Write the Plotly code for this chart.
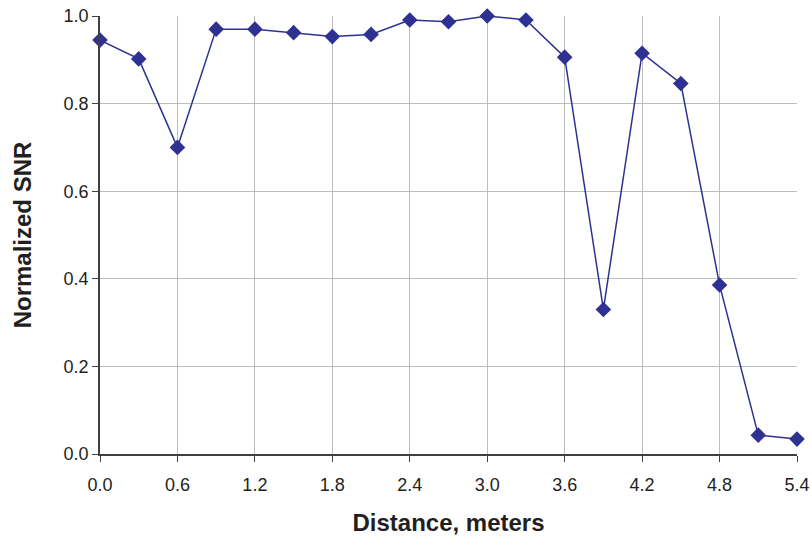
import plotly.graph_objects as go

distance = [0.0, 0.3, 0.6, 0.9, 1.2, 1.5, 1.8, 2.1, 2.4, 2.7, 3.0, 3.3, 3.6, 3.9, 4.2, 4.5, 4.8, 5.1, 5.4]
snr = [0.945, 0.902, 0.700, 0.970, 0.970, 0.962, 0.953, 0.958, 0.991, 0.987, 1.000, 0.991, 0.906, 0.330, 0.915, 0.846, 0.386, 0.043, 0.034]
xticks = [0.0, 0.6, 1.2, 1.8, 2.4, 3.0, 3.6, 4.2, 4.8, 5.4]
yticks = [0.0, 0.2, 0.4, 0.6, 0.8, 1.0]

color = "#2E3192"
font = "Liberation Sans, Arial, sans-serif"

fig = go.Figure(go.Scatter(
    x=distance, y=snr, mode="lines+markers",
    line=dict(color=color, width=1.5),
    marker=dict(symbol="diamond", size=12, color=color),
    cliponaxis=False,
))

fig.update_layout(
    width=812, height=539,
    margin=dict(l=100, r=15, t=16, b=85),
    paper_bgcolor="white", plot_bgcolor="white",
    font=dict(family=font, size=18, color="#231F20"),
    showlegend=False,
)
fig.update_xaxes(
    range=[0, 5.4], tickvals=xticks, ticktext=[f"{v:.1f}" for v in xticks],
    showgrid=True, gridcolor="#BDBDBD", gridwidth=1,
    showline=True, linecolor="#404040", linewidth=1.5,
    ticks="outside", ticklen=6, tickcolor="#404040",
    zeroline=False, automargin=False,
    tickfont=dict(size=18), ticklabelstandoff=8,
    title=dict(text="<b>Distance, meters</b>", font=dict(size=24), standoff=20),
)
fig.update_yaxes(
    range=[0, 1.0], tickvals=yticks, ticktext=[f"{v:.1f}" for v in yticks],
    showgrid=True, gridcolor="#BDBDBD", gridwidth=1,
    showline=True, linecolor="#404040", linewidth=1.5,
    ticks="outside", ticklen=6, tickcolor="#404040",
    zeroline=False, automargin=False,
    tickfont=dict(size=18),
    title=dict(text="<b>Normalized SNR</b>", font=dict(size=24), standoff=25),
)

fig.write_html("out.html", post_script="document.body.style.margin='0px';",
               config={"displayModeBar": False})
